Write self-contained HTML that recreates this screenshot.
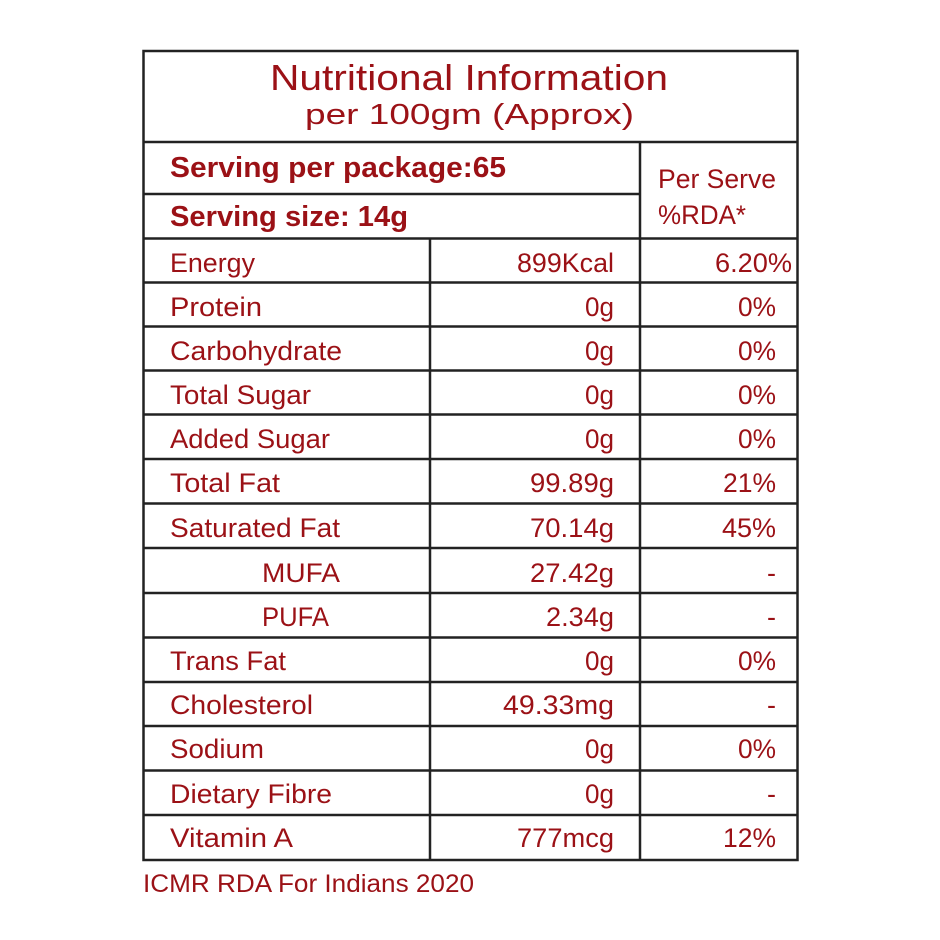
<!DOCTYPE html>
<html><head><meta charset="utf-8"><style>
html,body{margin:0;padding:0;background:#fff;width:940px;height:940px;overflow:hidden}
svg{display:block}
text{font-family:"Liberation Sans",sans-serif;fill:#9b1116}
</style></head><body>
<svg width="940" height="940" viewBox="0 0 940 940" xmlns="http://www.w3.org/2000/svg">
<g stroke="#222" stroke-width="2.5" fill="none">
<rect x="143.5" y="51" width="654" height="809"/>
<line x1="143" y1="142" x2="798" y2="142"/>
<line x1="143" y1="194" x2="640" y2="194"/>
<line x1="143" y1="238.5" x2="798" y2="238.5"/>
<line x1="640" y1="142" x2="640" y2="860"/>
<line x1="430" y1="238" x2="430" y2="860"/>
<line x1="143" y1="282.5" x2="798" y2="282.5"/>
<line x1="143" y1="326.5" x2="798" y2="326.5"/>
<line x1="143" y1="370.5" x2="798" y2="370.5"/>
<line x1="143" y1="414.5" x2="798" y2="414.5"/>
<line x1="143" y1="459" x2="798" y2="459"/>
<line x1="143" y1="503.5" x2="798" y2="503.5"/>
<line x1="143" y1="548" x2="798" y2="548"/>
<line x1="143" y1="593" x2="798" y2="593"/>
<line x1="143" y1="637.5" x2="798" y2="637.5"/>
<line x1="143" y1="682" x2="798" y2="682"/>
<line x1="143" y1="726" x2="798" y2="726"/>
<line x1="143" y1="770.5" x2="798" y2="770.5"/>
<line x1="143" y1="815" x2="798" y2="815"/>
</g>
<text x="270" y="90" font-size="36" textLength="398" lengthAdjust="spacingAndGlyphs">Nutritional Information</text>
<text x="305" y="124" font-size="29" textLength="329" lengthAdjust="spacingAndGlyphs">per 100gm (Approx)</text>
<text x="170" y="177" font-size="29" font-weight="bold" textLength="336" lengthAdjust="spacingAndGlyphs">Serving per package:65</text>
<text x="170" y="226" font-size="29" font-weight="bold" textLength="238" lengthAdjust="spacingAndGlyphs">Serving size: 14g</text>
<text x="658" y="188" font-size="27" textLength="118" lengthAdjust="spacingAndGlyphs">Per Serve</text>
<text x="658" y="224" font-size="27" textLength="88" lengthAdjust="spacingAndGlyphs">%RDA*</text>
<g font-size="27" lengthAdjust="spacingAndGlyphs">
<text x="170" y="272" textLength="85" lengthAdjust="spacingAndGlyphs">Energy</text>
<text x="170" y="316" textLength="92" lengthAdjust="spacingAndGlyphs">Protein</text>
<text x="170" y="360" textLength="172" lengthAdjust="spacingAndGlyphs">Carbohydrate</text>
<text x="170" y="404" textLength="141" lengthAdjust="spacingAndGlyphs">Total Sugar</text>
<text x="170" y="448" textLength="160" lengthAdjust="spacingAndGlyphs">Added Sugar</text>
<text x="170" y="492" textLength="110" lengthAdjust="spacingAndGlyphs">Total Fat</text>
<text x="170" y="537" textLength="170" lengthAdjust="spacingAndGlyphs">Saturated Fat</text>
<text x="262" y="582" textLength="78" lengthAdjust="spacingAndGlyphs">MUFA</text>
<text x="262" y="626" textLength="67" lengthAdjust="spacingAndGlyphs">PUFA</text>
<text x="170" y="670" textLength="116" lengthAdjust="spacingAndGlyphs">Trans Fat</text>
<text x="170" y="714" textLength="143" lengthAdjust="spacingAndGlyphs">Cholesterol</text>
<text x="170" y="758" textLength="94" lengthAdjust="spacingAndGlyphs">Sodium</text>
<text x="170" y="803" textLength="162" lengthAdjust="spacingAndGlyphs">Dietary Fibre</text>
<text x="170" y="847" textLength="123" lengthAdjust="spacingAndGlyphs">Vitamin A</text>

<text x="517" y="272" textLength="97" lengthAdjust="spacingAndGlyphs">899Kcal</text>
<text x="585" y="316" textLength="29" lengthAdjust="spacingAndGlyphs">0g</text>
<text x="585" y="360" textLength="29" lengthAdjust="spacingAndGlyphs">0g</text>
<text x="585" y="404" textLength="29" lengthAdjust="spacingAndGlyphs">0g</text>
<text x="585" y="448" textLength="29" lengthAdjust="spacingAndGlyphs">0g</text>
<text x="530" y="492" textLength="84" lengthAdjust="spacingAndGlyphs">99.89g</text>
<text x="530" y="537" textLength="84" lengthAdjust="spacingAndGlyphs">70.14g</text>
<text x="530" y="582" textLength="84" lengthAdjust="spacingAndGlyphs">27.42g</text>
<text x="546" y="626" textLength="68" lengthAdjust="spacingAndGlyphs">2.34g</text>
<text x="585" y="670" textLength="29" lengthAdjust="spacingAndGlyphs">0g</text>
<text x="503" y="714" textLength="111" lengthAdjust="spacingAndGlyphs">49.33mg</text>
<text x="585" y="758" textLength="29" lengthAdjust="spacingAndGlyphs">0g</text>
<text x="585" y="803" textLength="29" lengthAdjust="spacingAndGlyphs">0g</text>
<text x="517" y="847" textLength="97" lengthAdjust="spacingAndGlyphs">777mcg</text>

<text x="715" y="272" textLength="77" lengthAdjust="spacingAndGlyphs">6.20%</text>
<text x="738" y="316" textLength="38" lengthAdjust="spacingAndGlyphs">0%</text>
<text x="738" y="360" textLength="38" lengthAdjust="spacingAndGlyphs">0%</text>
<text x="738" y="404" textLength="38" lengthAdjust="spacingAndGlyphs">0%</text>
<text x="738" y="448" textLength="38" lengthAdjust="spacingAndGlyphs">0%</text>
<text x="723" y="492" textLength="53" lengthAdjust="spacingAndGlyphs">21%</text>
<text x="722" y="537" textLength="54" lengthAdjust="spacingAndGlyphs">45%</text>
<text x="767" y="582">-</text>
<text x="767" y="626">-</text>
<text x="738" y="670" textLength="38" lengthAdjust="spacingAndGlyphs">0%</text>
<text x="767" y="714">-</text>
<text x="738" y="758" textLength="38" lengthAdjust="spacingAndGlyphs">0%</text>
<text x="767" y="803">-</text>
<text x="723" y="847" textLength="53" lengthAdjust="spacingAndGlyphs">12%</text>
</g>
<text x="143" y="892" font-size="25" textLength="331" lengthAdjust="spacingAndGlyphs">ICMR RDA For Indians 2020</text>
</svg>
</body></html>
